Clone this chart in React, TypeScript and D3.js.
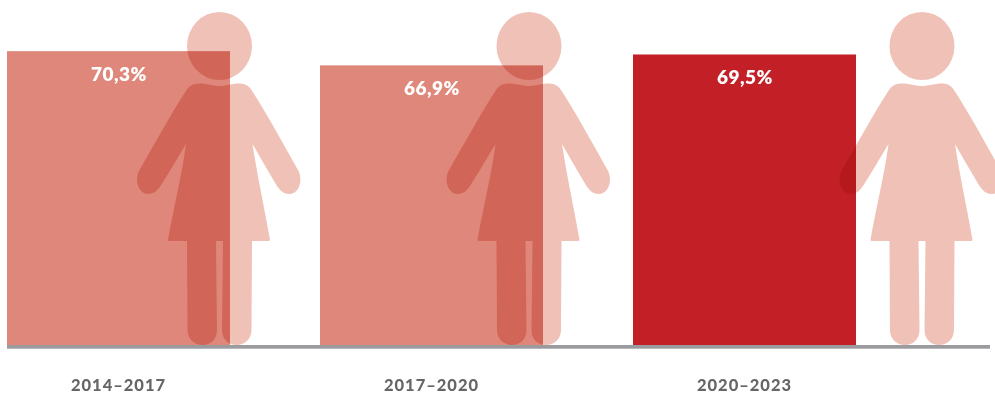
import React from "react";
import * as d3 from "d3";

const periods = ["2014–2017", "2017–2020", "2020–2023"];
const shares = [70.3, 66.9, 69.5];
const shareLabels = ["70,3%", "66,9%", "69,5%"];
const barColors = ["#df877a", "#df877a", "#c22026"];
const figureCenters = [219.5, 529, 922];

const WIDTH = 995;
const HEIGHT = 394;
const BASELINE = 345;

const x = d3
  .scaleBand<string>()
  .domain(periods)
  .range([7, 856])
  .paddingInner(90 / 313)
  .paddingOuter(0);

const y = d3.scaleLinear().domain([0, 100]).range([BASELINE, BASELINE - 418]);

// Pictogram body, drawn around a vertical axis at x = 0.
const BODY =
  "M0,86 C-7,86 -12,83.5 -20,83.5 C-26,83.5 -30,85.5 -33,90 " +
  "C-48,113 -66,146 -80,170 C-85,178 -82.5,194 -71,194 C-65,194 -62,190 -59,186 " +
  "C-50,172 -42,158 -33.5,144 C-37,172 -46,208 -51.5,240 Q-51.5,241 -50,241 " +
  "L-32.5,241 L-32,330 C-32,339 -25,345 -17,345 C-9,345 -2.5,339 -2.5,330 L-3.5,241 " +
  "L3.5,241 L2.5,330 C2.5,339 9,345 17,345 C25,345 32,339 32,330 L32.5,241 " +
  "L49,241 Q50.5,241 50.5,240 C45,208 37,172 33,144 " +
  "C41,158 49,172 57.5,186 C60.5,190 63.5,194 69.5,194 C81,194 83.5,178 78.5,170 " +
  "C65,146 47,113 32,90 C29,85.5 25,83.5 20,83.5 C12,83.5 7,86 0,86 Z";

export default function App() {
  return (
    <svg
      width={WIDTH}
      height={HEIGHT}
      viewBox={`0 0 ${WIDTH} ${HEIGHT}`}
      style={{ position: "absolute", left: 0, top: 0, display: "block", background: "#fff" }}
    >
      {periods.map((p, i) => (
        <rect
          key={p}
          x={x(p)}
          y={y(shares[i])}
          width={x.bandwidth()}
          height={BASELINE - y(shares[i])}
          fill={barColors[i]}
        />
      ))}
      {figureCenters.map((cx) => (
        <g key={cx} transform={`translate(${cx},0)`} fill="#efc1b7" style={{ mixBlendMode: "multiply" }}>
          <ellipse cx={0} cy={46} rx={32.5} ry={34} />
          <path d={BODY} />
        </g>
      ))}
      <rect x={7} y={345} width={983} height={3.7} fill="#9b9b9f" />
      {periods.map((p, i) => (
        <text
          key={p}
          x={x(p)! + x.bandwidth() / 2 + 0.5}
          y={y(shares[i]) + 29.5}
          textAnchor="middle"
          fill="#fff"
          fontFamily="Lato, sans-serif"
          fontWeight={800}
          fontSize={19}
          letterSpacing={0.5}
        >
          {shareLabels[i]}
        </text>
      ))}
      {periods.map((p) => (
        <text
          key={p}
          x={x(p)! + x.bandwidth() / 2}
          y={390.6}
          textAnchor="middle"
          fill="#666666"
          fontFamily="Lato, sans-serif"
          fontWeight={900}
          fontSize={16.5}
          letterSpacing={1}
        >
          {p}
        </text>
      ))}
    </svg>
  );
}
